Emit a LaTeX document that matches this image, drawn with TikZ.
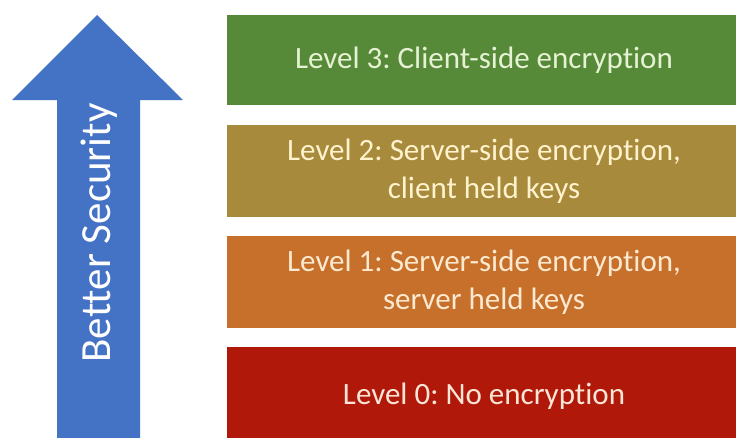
\documentclass[tikz,border=0pt]{standalone}
\usepackage{fontspec}
\setmainfont{Carlito}[Ligatures={NoCommon}]
\frenchspacing
\definecolor{arrowblue}{HTML}{4472C4}
\definecolor{lvlthree}{HTML}{578A38}
\definecolor{lvltwo}{HTML}{A78A3C}
\definecolor{lvlone}{HTML}{C6702B}
\definecolor{lvlzero}{HTML}{B0190A}
\definecolor{txtthree}{HTML}{E6F2D4}
\definecolor{txttwo}{HTML}{FFF2CC}
\definecolor{txtone}{HTML}{FCE9CF}
\definecolor{txtzero}{HTML}{FBE5D6}
\begin{document}
\begin{tikzpicture}[x=1pt,y=-1pt,
  levelbox/.style={inner sep=0pt, minimum width=514pt, align=center,
    font=\fontsize{31}{38}\selectfont\frenchspacing},
  arrowlabel/.style={rotate=90, anchor=base, text=white, inner sep=0pt,
    font=\fontsize{43}{50}\selectfont}]
\useasboundingbox (0,0) rectangle (736,437);
\fill[white] (0,0) rectangle (736,437);
\fill[arrowblue] (97,15) -- (183,100) -- (140,100) -- (140,445) -- (57,445) -- (57,100) -- (12,100) -- cycle;
\node[arrowlabel] (sec) at (110,233) {Better Security};
\node[levelbox, fill=lvlthree, text=txtthree, minimum height=90pt] (l3) at (484,60) {Level 3: Client-side encryption};
\node[levelbox, fill=lvltwo, text=txttwo, minimum height=92pt] (l2) at (484,171) {Level 2: Server-side encryption,\\client held keys};
\node[levelbox, fill=lvlone, text=txtone, minimum height=92pt] (l1) at (484,282) {Level 1: Server-side encryption,\\server held keys};
\node[levelbox, fill=lvlzero, text=txtzero, minimum height=98pt] (l0) at (484,396) {Level 0: No encryption};
\end{tikzpicture}
\end{document}
